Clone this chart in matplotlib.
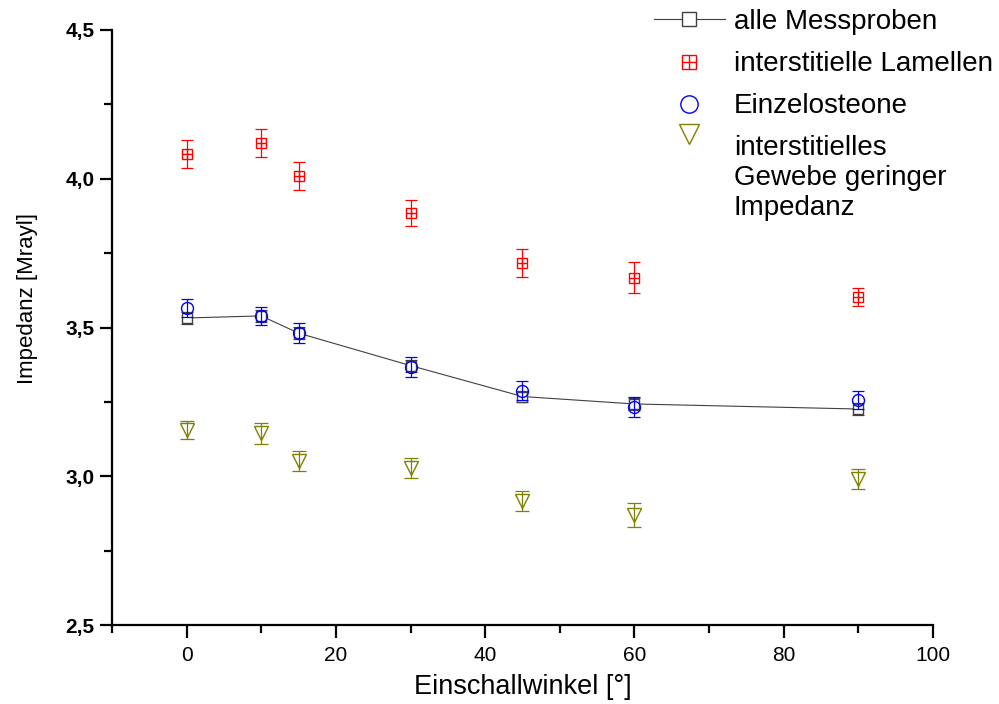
import numpy as np
import matplotlib.pyplot as plt
from matplotlib import font_manager
from matplotlib.ticker import MultipleLocator, FuncFormatter
from matplotlib.legend_handler import HandlerLine2D, HandlerTuple

plt.rcParams['font.family'] = ['Liberation Sans', 'DejaVu Sans']

winkel = [0, 10, 15, 30, 45, 60, 90]
alle = [3.532, 3.539, 3.481, 3.372, 3.268, 3.243, 3.226]
alle_err = [0.020, 0.020, 0.020, 0.020, 0.020, 0.020, 0.020]
lamellen = [4.083, 4.120, 4.009, 3.885, 3.716, 3.668, 3.603]
lamellen_err = [0.046, 0.048, 0.048, 0.045, 0.047, 0.051, 0.030]
osteone = [3.565, 3.539, 3.482, 3.367, 3.288, 3.233, 3.256]
osteone_err = [0.030, 0.030, 0.033, 0.035, 0.033, 0.033, 0.030]
gewebe = [3.155, 3.145, 3.051, 3.028, 2.917, 2.870, 2.990]
gewebe_err = [0.030, 0.035, 0.033, 0.035, 0.033, 0.040, 0.033]

labels = ["alle Messproben", "interstitielle Lamellen", "Einzelosteone",
          "interstitielles\nGewebe geringer\nImpedanz"]

grau = "#404040"
rot = "#ff0000"
blau = "#0000ff"
oliv = "#808000"

narrow = [f.name for f in font_manager.fontManager.ttflist if f.name == "Liberation Sans Narrow"]
ylabel_font = ["Liberation Sans Narrow"] if narrow else ["Liberation Sans"]
ylabel_size = 19 if narrow else 16


class TopHandler(HandlerLine2D):
    # Marker an die erste Textzeile schieben
    def create_artists(self, legend, orig_handle, xdescent, ydescent,
                       width, height, fontsize, trans):
        arts = super().create_artists(legend, orig_handle, xdescent, ydescent,
                                      width, height, fontsize, trans)
        for a in arts:
            a.set_ydata(np.asarray(a.get_ydata()) + 1.6 * fontsize)
        return arts


fig = plt.figure(figsize=(9.99, 7.04), dpi=100)
ax = fig.add_axes([0.1121, 0.1122, 0.8218, 0.8452])

eb = dict(fmt='none', elinewidth=0.9, capthick=0.9)
ax.errorbar(winkel, alle, yerr=alle_err, ecolor=grau, capsize=4.3, **eb)
l_alle, = ax.plot(winkel, alle, color=grau, lw=0.8, marker='s', ms=7.2,
                  mfc='white', mec=grau, mew=1.0)

ax.errorbar(winkel, lamellen, yerr=lamellen_err, ecolor=rot, capsize=4.3, **eb)
l_lam, = ax.plot(winkel, lamellen, ls='none', marker='s', ms=7.2,
                 mfc='none', mec=rot, mew=1.0)
l_lam2, = ax.plot(winkel, lamellen, ls='none', marker='+', ms=7.2,
                  mec=rot, mew=1.0)

ax.errorbar(winkel, osteone, yerr=osteone_err, ecolor=blau, capsize=4.3, **eb)
l_ost, = ax.plot(winkel, osteone, ls='none', marker='o', ms=8.6,
                 mfc='none', mec=blau, mew=1.0)

ax.errorbar(winkel, gewebe, yerr=gewebe_err, ecolor=oliv, capsize=5, **eb)
l_gew, = ax.plot(winkel, gewebe, ls='none', marker='v', ms=10,
                 mfc='none', mec=oliv, mew=1.0)

ax.set_xlim(-10, 100)
ax.set_ylim(2.5, 4.5)
ax.spines['top'].set_visible(False)
ax.spines['right'].set_visible(False)
for s in ['left', 'bottom']:
    ax.spines[s].set_linewidth(1.6)

ax.xaxis.set_major_locator(MultipleLocator(20))
ax.xaxis.set_minor_locator(MultipleLocator(10))
ax.yaxis.set_major_locator(MultipleLocator(0.5))
ax.yaxis.set_minor_locator(MultipleLocator(0.25))
ax.yaxis.set_major_formatter(FuncFormatter(lambda v, p: f"{v:.1f}".replace('.', ',')))
ax.tick_params(which='major', direction='out', length=9, width=1.6)
ax.tick_params(which='minor', direction='out', length=6, width=1.6)
ax.tick_params(axis='x', which='major', labelsize=15, pad=6)
ax.tick_params(axis='y', which='major', labelsize=15, pad=3.5)
for t in ax.get_yticklabels():
    t.set_fontweight('bold')

ax.set_xlabel("Einschallwinkel [°]", fontsize=19.5)
ax.xaxis.set_label_coords(0.5, -0.082)
ax.set_ylabel("Impedanz [Mrayl]", fontsize=ylabel_size, family=ylabel_font)
ax.yaxis.set_label_coords(-0.09, 0.548)

ax.legend([l_alle, (l_lam, l_lam2), l_ost, l_gew], labels,
          loc='upper left', bbox_to_anchor=(0.6547, 0.987),
          bbox_transform=fig.transFigure, frameon=False, fontsize=20,
          borderpad=0, borderaxespad=0, handlelength=2.55,
          handletextpad=0.32, labelspacing=0.58, markerscale=1.45,
          handler_map={tuple: HandlerTuple(ndivide=1, pad=0),
                       l_gew: TopHandler()})

fig.savefig("out.png", dpi=100)
